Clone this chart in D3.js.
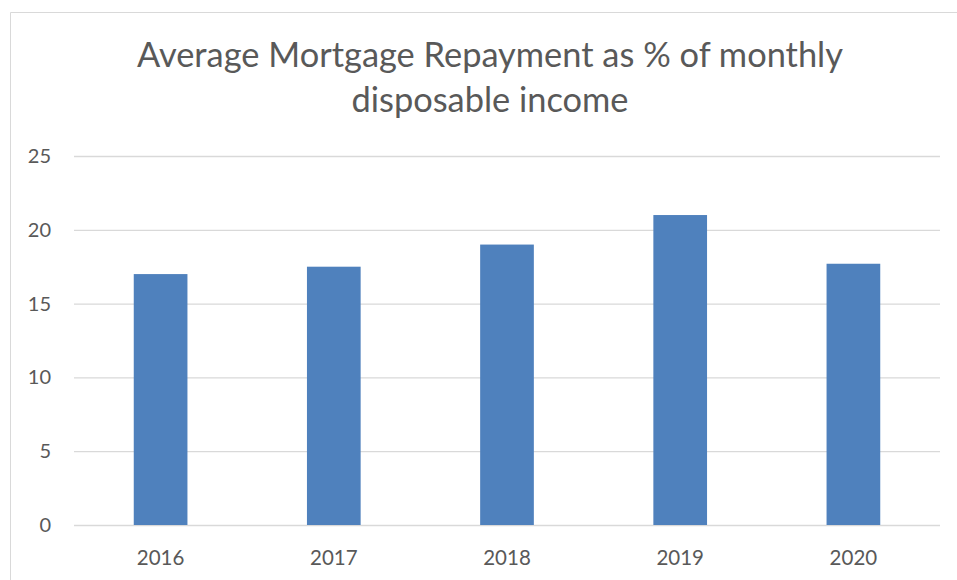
<!DOCTYPE html>
<html>
<head>
    <style>
        body { margin: 0; background: #fff; }
        svg text { font-family: Lato, "Open Sans", sans-serif; fill: #595959; }
    </style>
    <script src="https://d3js.org/d3.v7.min.js"></script>
</head>
<body>
<div id="chart"></div>
<script>
    // data
    const years = ['2016', '2017', '2018', '2019', '2020'];
    const repayment = [17.0, 17.5, 19.0, 21.0, 17.7];
    const yTicks = [0, 5, 10, 15, 20, 25];
    const titleLines = ['Average Mortgage Repayment as % of monthly', 'disposable income'];

    const width = 957, height = 580;
    const plot = { left: 74, right: 940, top: 156, bottom: 525 };

    const svg = d3.select('#chart').append('svg')
            .attr('width', width)
            .attr('height', height);

    // chart frame (Excel style, only left + top visible)
    svg.append('path')
            .attr('d', `M10.5,${height} V12.5 H${width}`)
            .attr('fill', 'none')
            .attr('stroke', '#d9d9d9')
            .attr('stroke-width', 1);

    const x = d3.scaleBand()
            .domain(years)
            .range([plot.left, plot.right])
            .paddingInner(0.69)
            .paddingOuter(0.345);

    const y = d3.scaleLinear()
            .domain([0, 25])
            .range([plot.bottom, plot.top]);

    // gridlines
    svg.append('g')
            .selectAll('line')
            .data(yTicks)
            .join('line')
            .attr('x1', plot.left)
            .attr('x2', plot.right)
            .attr('y1', d => y(d) + 0.5)
            .attr('y2', d => y(d) + 0.5)
            .attr('stroke', '#d9d9d9')
            .attr('stroke-width', 1.3);

    // y labels
    svg.append('g')
            .selectAll('text')
            .data(yTicks)
            .join('text')
            .attr('x', 51)
            .attr('y', d => y(d) + 7)
            .attr('text-anchor', 'end')
            .style('font-size', '20px')
            .text(d => d);

    // bars
    svg.append('g')
            .selectAll('rect')
            .data(repayment)
            .join('rect')
            .attr('x', (d, i) => x(years[i]))
            .attr('width', x.bandwidth())
            .attr('y', d => y(d))
            .attr('height', d => y(0) - y(d))
            .attr('fill', '#4f81bd');

    // x labels
    svg.append('g')
            .selectAll('text')
            .data(years)
            .join('text')
            .attr('x', d => x(d) + x.bandwidth() / 2)
            .attr('y', 565)
            .attr('text-anchor', 'middle')
            .style('font-size', '20.5px')
            .text(d => d);

    // title
    svg.append('g')
            .selectAll('text')
            .data(titleLines)
            .join('text')
            .attr('x', 490)
            .attr('y', (d, i) => 67 + i * 45)
            .attr('text-anchor', 'middle')
            .style('font-size', '34.4px')
            .text(d => d);
</script>
</body>
</html>
